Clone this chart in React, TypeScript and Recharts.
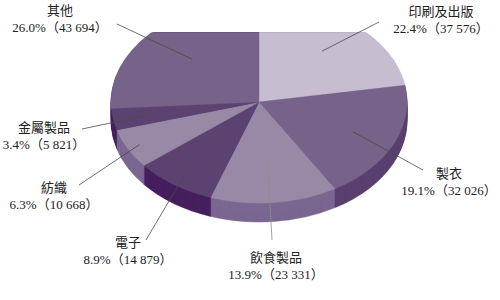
import React from 'react';
import { PieChart, Pie, Cell } from 'recharts';

// Employment by industry
const categories = ['印刷及出版', '製衣', '飲食製品', '電子', '紡織', '金屬製品', '其他'];
const employees = [37576, 32026, 23331, 14879, 10668, 5821, 43694];
const shares = [22.4, 19.1, 13.9, 8.9, 6.3, 3.4, 26.0];

const topColors = ['#c6bdd1', '#77628a', '#988aa7', '#5c4271', '#988aa7', '#5c4271', '#77628a'];
const sideColors = ['#a398b0', '#5b4272', '#7b6891', '#46205e', '#7b6891', '#46205e', '#5b4272'];

// label placement: text centre / first baseline, leader start, and how far into the slice the leader reaches
const labelSpots = [
  { x: 441, y: 16, lx: 379, ly: 22, reach: 0.66 },
  { x: 449, y: 178, lx: 423, ly: 170, reach: 0.7 },
  { x: 276, y: 262, lx: 272, ly: 240, reach: 0.56 },
  { x: 128, y: 247, lx: 146, ly: 240, reach: 0.87 },
  { x: 54, y: 192, lx: 79, ly: 185, reach: 0.91 },
  { x: 44, y: 132, lx: 82, ly: 129, reach: 0.77 },
  { x: 60, y: 15, lx: 117, ly: 24, reach: 0.62 },
];

const W = 500;
const H = 300;
const CX = 259;
const CY = 102;
const R = 148;
const TILT = 0.683;
const DEPTH = 19;

const data = categories.map((name, i) => ({ name, value: employees[i] }));
const layers = Array.from({ length: DEPTH }, (_, i) => DEPTH - i);
const noMargin = { top: 0, right: 0, bottom: 0, left: 0 };
const font = "'Liberation Serif', 'Noto Sans CJK TC', serif";

const spaced = (n: number) => String(n).replace(/\B(?=(\d{3})+(?!\d))/g, ' ');

const renderLabel = (props: any) => {
  const { cx, cy, midAngle, outerRadius, index } = props;
  const spot = labelSpots[index];
  const rad = (midAngle * Math.PI) / 180;
  const ex = cx + outerRadius * spot.reach * Math.cos(rad);
  const ey = cy - outerRadius * TILT * spot.reach * Math.sin(rad);
  return (
    <g key={`label-${index}`}>
      <line x1={spot.lx} y1={spot.ly} x2={ex} y2={ey} stroke={index === 2 ? '#8c8c8c' : '#4a4a4a'} strokeWidth={0.8} />
      <text x={spot.x} y={spot.y} textAnchor="middle" fontFamily={font} fontSize={13} fill="#222">
        {categories[index]}
      </text>
      <text x={spot.x} y={spot.y + 17} textAnchor="middle" fontFamily={font} fontSize={13} fill="#222">
        {`${shares[index].toFixed(1)}%（${spaced(employees[index])}）`}
      </text>
    </g>
  );
};

export default function App() {
  return (
    <div style={{ position: 'absolute', left: 0, top: 0, width: W, height: H, background: '#fff' }}>
      {/* pie body, squashed vertically to give the tilted look */}
      <div
        style={{
          position: 'absolute',
          left: 0,
          top: 0,
          width: W,
          height: H,
          transform: `scaleY(${TILT})`,
          transformOrigin: `${CX}px ${CY}px`,
        }}
      >
        <PieChart width={W} height={H} margin={noMargin}>
          {layers.map((d) => (
            <Pie
              key={`side-${d}`}
              data={data}
              dataKey="value"
              cx={CX}
              cy={CY + d / TILT}
              outerRadius={R}
              startAngle={90}
              endAngle={-270}
              isAnimationActive={false}
            >
              {data.map((_, i) => (
                <Cell key={i} fill={sideColors[i]} stroke={sideColors[i]} strokeWidth={0.5} />
              ))}
            </Pie>
          ))}
          <Pie
            data={data}
            dataKey="value"
            cx={CX}
            cy={CY}
            outerRadius={R}
            startAngle={90}
            endAngle={-270}
            isAnimationActive={false}
          >
            {data.map((_, i) => (
              <Cell key={i} fill={topColors[i]} stroke={topColors[i]} strokeWidth={0.5} />
            ))}
          </Pie>
        </PieChart>
      </div>
      {/* labels and leader lines, unscaled */}
      <div style={{ position: 'absolute', left: 0, top: 0, width: W, height: H }}>
        <PieChart width={W} height={H} margin={noMargin}>
          <Pie
            data={data}
            dataKey="value"
            cx={CX}
            cy={CY}
            outerRadius={R}
            startAngle={90}
            endAngle={-270}
            fill="none"
            stroke="none"
            label={renderLabel}
            labelLine={false}
            isAnimationActive={false}
          />
        </PieChart>
      </div>
    </div>
  );
}
